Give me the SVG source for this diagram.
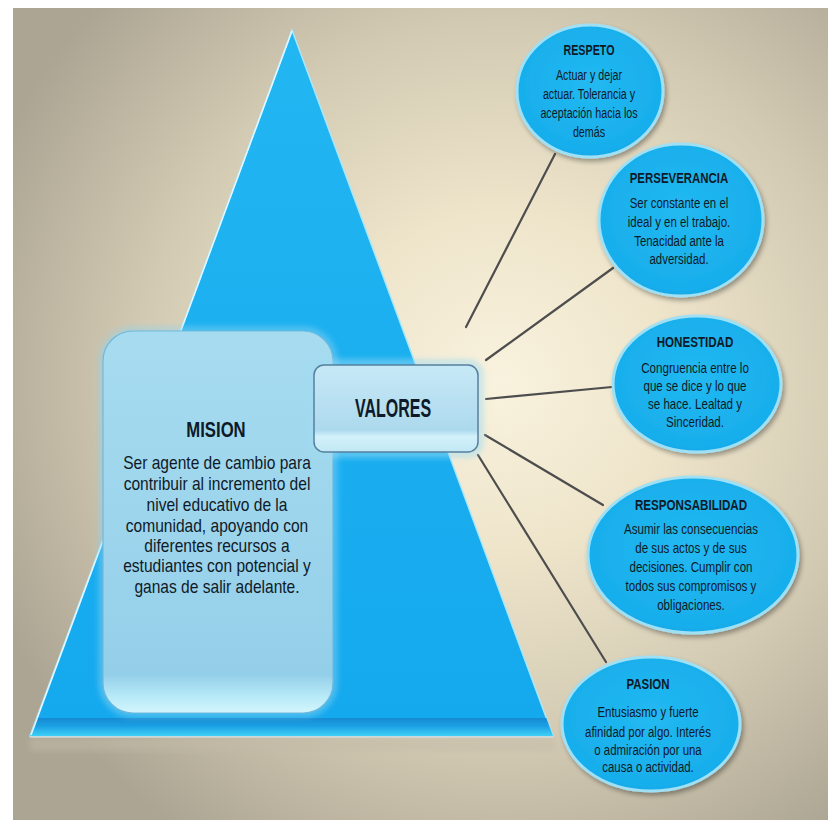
<svg xmlns="http://www.w3.org/2000/svg" width="840" height="820" viewBox="0 0 840 820">
  <defs>
    <radialGradient id="bg" cx="0.6" cy="0.46" r="0.68">
      <stop offset="0" stop-color="#f9f2de"/>
      <stop offset="0.3" stop-color="#eee5cb"/>
      <stop offset="0.65" stop-color="#d3cab3"/>
      <stop offset="1" stop-color="#aca593"/>
    </radialGradient>
    <linearGradient id="tri" x1="0" y1="0" x2="0" y2="1">
      <stop offset="0" stop-color="#22b6f2"/>
      <stop offset="1" stop-color="#14a8ee"/>
    </linearGradient>
    <linearGradient id="base" x1="0" y1="0" x2="0" y2="1">
      <stop offset="0" stop-color="#1689d2"/>
      <stop offset="0.45" stop-color="#1aa0e4"/>
      <stop offset="1" stop-color="#3fd0f7"/>
    </linearGradient>
    <linearGradient id="mision" x1="0" y1="0" x2="0" y2="1">
      <stop offset="0" stop-color="#a7dcf0"/>
      <stop offset="0.9" stop-color="#94cfe9"/>
      <stop offset="0.96" stop-color="#b9ebf8"/>
      <stop offset="1" stop-color="#d4f5fc"/>
    </linearGradient>
    <linearGradient id="valores" x1="0" y1="0" x2="0" y2="1">
      <stop offset="0" stop-color="#c7e9f6"/>
      <stop offset="0.75" stop-color="#add9ee"/>
      <stop offset="0.82" stop-color="#d2f1fa"/>
      <stop offset="1" stop-color="#c2e8f5"/>
    </linearGradient>
    <radialGradient id="ell" cx="0.5" cy="0.45" r="0.6">
      <stop offset="0" stop-color="#22b9f1"/>
      <stop offset="0.85" stop-color="#18aeec"/>
      <stop offset="1" stop-color="#12a0e0"/>
    </radialGradient>
    <filter id="shadow" x="-20%" y="-20%" width="140%" height="140%">
      <feGaussianBlur in="SourceAlpha" stdDeviation="2.5"/>
      <feOffset dx="2" dy="3" result="b"/>
      <feComponentTransfer><feFuncA type="linear" slope="0.35"/></feComponentTransfer>
      <feMerge><feMergeNode/><feMergeNode in="SourceGraphic"/></feMerge>
    </filter>
    <filter id="glow" x="-20%" y="-20%" width="140%" height="140%">
      <feGaussianBlur stdDeviation="3"/>
    </filter>
    <style>
      .t { font-family: "Liberation Sans", Arial, sans-serif; fill: #0f1a28; text-anchor: middle; }
      .ttl { font-weight: bold; font-size: 14.5px; }
      .bd { font-size: 14.5px; }
      .mb { font-size: 18px; }
      .ell { fill: url(#ell); stroke: #9fe0f5; stroke-width: 3; }
      .conn { stroke: #4d4d4d; stroke-width: 2.2; fill: none; stroke-linecap: round; }
    </style>
  </defs>

  <!-- background panel -->
  <rect x="0" y="0" width="840" height="820" fill="#ffffff"/>
  <rect x="13" y="8" width="815" height="812" fill="url(#bg)"/>

  <!-- pyramid -->
  <g id="piramide">
    <rect x="30" y="737" width="525" height="14" fill="#c2bba8" opacity="0.5" filter="url(#glow)"/>
    <polygon points="292,30 553,736 30,736" fill="url(#tri)" stroke="#a9e6fb" stroke-width="1.5"/>
    <polygon points="36.7,718 546.3,718 553,736 30,736" fill="url(#base)"/>
    <line x1="30" y1="737" x2="553" y2="737" stroke="#cfd8d8" stroke-width="1.5"/>
    <line x1="31" y1="735" x2="292" y2="31" stroke="#e2f8ff" stroke-width="1.5"/>
  </g>

  <!-- connectors -->
  <g id="conectores">
    <line class="conn" x1="555" y1="154" x2="466" y2="327"/>
    <line class="conn" x1="613" y1="268" x2="486" y2="360"/>
    <line class="conn" x1="612" y1="387" x2="486" y2="399"/>
    <line class="conn" x1="603" y1="505" x2="485" y2="435"/>
    <line class="conn" x1="606" y1="662" x2="478" y2="455"/>
  </g>

  <!-- MISION -->
  <g id="mision">
    <rect x="102" y="330" width="232" height="384" rx="31" fill="none" stroke="#8fd6f2" stroke-width="5" opacity="0.7" filter="url(#glow)"/>
    <rect x="103" y="331" width="230" height="382" rx="30" fill="url(#mision)" stroke="#6fb9de" stroke-width="1.2"/>
    <g transform="translate(216 0) scale(0.76 1)">
      <text class="t" x="0" y="437" font-size="22" font-weight="bold">MISION</text>
    </g>
    <g transform="translate(217 0) scale(0.865 1)">
      <text class="t mb" x="0" y="469">Ser agente de cambio para</text>
      <text class="t mb" x="0" y="490">contribuir al incremento del</text>
      <text class="t mb" x="0" y="511">nivel educativo de la</text>
      <text class="t mb" x="0" y="532">comunidad, apoyando con</text>
      <text class="t mb" x="0" y="552">diferentes recursos a</text>
      <text class="t mb" x="0" y="572">estudiantes con potencial y</text>
      <text class="t mb" x="0" y="593">ganas de salir adelante.</text>
    </g>
  </g>

  <!-- VALORES -->
  <g id="valores">
    <rect x="312" y="363" width="168" height="91" rx="11" fill="none" stroke="#9fdcf3" stroke-width="5" opacity="0.8" filter="url(#glow)"/>
    <rect x="314" y="365" width="164" height="87" rx="10" fill="url(#valores)" stroke="#55809e" stroke-width="1.5"/>
    <g transform="translate(393 0) scale(0.64 1)">
      <text class="t" x="0" y="417" font-size="25" font-weight="bold">VALORES</text>
    </g>
  </g>

  <!-- RESPETO -->
  <g id="respeto">
    <ellipse class="ell" cx="590" cy="91" rx="73" ry="66" filter="url(#shadow)"/>
    <g transform="translate(589 0) scale(0.74 1)">
      <text class="t ttl" x="0" y="55">RESPETO</text>
      <text class="t bd" x="0" y="80">Actuar y dejar</text>
      <text class="t bd" x="0" y="99">actuar. Tolerancia y</text>
      <text class="t bd" x="0" y="118">aceptación hacia los</text>
      <text class="t bd" x="0" y="137">demás</text>
    </g>
  </g>

  <!-- PERSEVERANCIA -->
  <g id="perseverancia">
    <ellipse class="ell" cx="681" cy="220" rx="82" ry="76" filter="url(#shadow)"/>
    <g transform="translate(679 0) scale(0.79 1)">
      <text class="t ttl" x="0" y="183">PERSEVERANCIA</text>
      <text class="t bd" x="0" y="208">Ser constante en el</text>
      <text class="t bd" x="0" y="227">ideal y en el trabajo.</text>
      <text class="t bd" x="0" y="246">Tenacidad ante la</text>
      <text class="t bd" x="0" y="264">adversidad.</text>
    </g>
  </g>

  <!-- HONESTIDAD -->
  <g id="honestidad">
    <ellipse class="ell" cx="697" cy="384" rx="84" ry="68" filter="url(#shadow)"/>
    <g transform="translate(695 0) scale(0.8 1)">
      <text class="t ttl" x="0" y="347">HONESTIDAD</text>
      <text class="t bd" x="0" y="373">Congruencia entre lo</text>
      <text class="t bd" x="0" y="391">que se dice y lo que</text>
      <text class="t bd" x="0" y="409">se hace. Lealtad y</text>
      <text class="t bd" x="0" y="427">Sinceridad.</text>
    </g>
  </g>

  <!-- RESPONSABILIDAD -->
  <g id="responsabilidad">
    <ellipse class="ell" cx="693" cy="555" rx="105" ry="78" filter="url(#shadow)"/>
    <g transform="translate(691 0) scale(0.8 1)">
      <text class="t ttl" x="0" y="510">RESPONSABILIDAD</text>
      <text class="t bd" x="0" y="534">Asumir las consecuencias</text>
      <text class="t bd" x="0" y="553">de sus actos y de sus</text>
      <text class="t bd" x="0" y="572">decisiones. Cumplir con</text>
      <text class="t bd" x="0" y="591">todos sus compromisos y</text>
      <text class="t bd" x="0" y="610">obligaciones.</text>
    </g>
  </g>

  <!-- PASION -->
  <g id="pasion">
    <ellipse class="ell" cx="651" cy="724" rx="89" ry="67" filter="url(#shadow)"/>
    <g transform="translate(648 0) scale(0.79 1)">
      <text class="t ttl" x="0" y="689">PASION</text>
      <text class="t bd" x="0" y="717">Entusiasmo y fuerte</text>
      <text class="t bd" x="0" y="737">afinidad por algo. Interés</text>
      <text class="t bd" x="0" y="755">o admiración por una</text>
      <text class="t bd" x="0" y="772">causa o actividad.</text>
    </g>
  </g>
</svg>
